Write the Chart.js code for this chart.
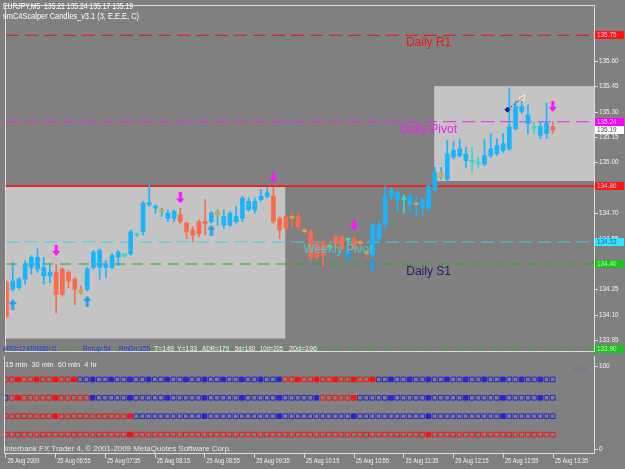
<!DOCTYPE html>
<html>
<head>
<meta charset="utf-8">
<script src="https://cdn.jsdelivr.net/npm/chart.js@4.4.1/dist/chart.umd.min.js"></script>
<style>
  html, body { margin: 0; padding: 0; width: 625px; height: 469px; overflow: hidden; background: #808080; }
  canvas { position: absolute; left: 0; }
  #main { top: 0; }
  #sub { top: 356px; }
</style>
</head>
<body>
<canvas id="main" width="625" height="357"></canvas>
<canvas id="sub" width="625" height="113"></canvas>
<script>
// --- data: EURJPY M5, 25 Aug 2009, bars 06:15 .. 13:35 ---
const open = [
  134.29, 134.25, 134.26, 134.31, 134.38, 134.37, 134.33, 134.33, 134.35, 134.37,
  134.35, 134.31, 134.25, 134.25, 134.38, 134.38, 134.38, 134.38, 134.44, 134.45,
  134.46, 134.57, 134.59, 134.75, 134.73, 134.72, 134.67, 134.67, 134.69, 134.64,
  134.60, 134.65, 134.65, 134.65, 134.71, 134.63, 134.63, 134.65, 134.67, 134.72,
  134.72, 134.78, 134.80, 134.80, 134.67, 134.68, 134.68, 134.68, 134.60, 134.59,
  134.52, 134.53, 134.51, 134.56, 134.56, 134.54, 134.55, 134.53, 134.47, 134.45,
  134.55, 134.63, 134.80, 134.78, 134.78, 134.75, 134.76, 134.73, 134.73, 134.84,
  134.94, 134.90, 135.03, 135.04, 135.01, 135.00, 134.99, 134.99, 135.04, 135.05,
  135.07, 135.08, 135.20, 135.30, 135.23, 135.20, 135.16, 135.17, 135.21
];
const high = [
  134.30, 134.41, 134.32, 134.42, 134.45, 134.49, 134.44, 134.40, 134.40, 134.38,
  134.36, 134.32, 134.27, 134.38, 134.48, 134.49, 134.42, 134.46, 134.48, 134.46,
  134.60, 134.58, 134.77, 134.87, 134.75, 134.73, 134.72, 134.72, 134.73, 134.65,
  134.62, 134.66, 134.78, 134.71, 134.72, 134.72, 134.71, 134.74, 134.80, 134.79,
  134.79, 134.84, 134.85, 134.85, 134.68, 134.69, 134.70, 134.70, 134.61, 134.60,
  134.53, 134.54, 134.52, 134.57, 134.57, 134.55, 134.56, 134.54, 134.48, 134.64,
  134.65, 134.86, 134.85, 134.83, 134.81, 134.81, 134.80, 134.79, 134.87, 134.97,
  134.97, 135.13, 135.12, 135.14, 135.09, 135.09, 135.03, 135.14, 135.17, 135.14,
  135.17, 135.44, 135.36, 135.36, 135.34, 135.24, 135.24, 135.35, 135.24
];
const low = [
  134.08, 134.24, 134.25, 134.28, 134.34, 134.35, 134.28, 134.29, 134.11, 134.21,
  134.26, 134.16, 134.22, 134.24, 134.37, 134.31, 134.32, 134.37, 134.39, 134.44,
  134.45, 134.56, 134.57, 134.74, 134.70, 134.68, 134.65, 134.65, 134.64, 134.55,
  134.53, 134.56, 134.57, 134.64, 134.63, 134.61, 134.62, 134.64, 134.65, 134.71,
  134.70, 134.77, 134.79, 134.64, 134.55, 134.60, 134.62, 134.60, 134.58, 134.42,
  134.43, 134.39, 134.49, 134.49, 134.48, 134.52, 134.48, 134.50, 134.44, 134.44,
  134.52, 134.61, 134.78, 134.71, 134.70, 134.70, 134.68, 134.68, 134.72, 134.83,
  134.90, 134.89, 135.02, 135.03, 134.97, 134.94, 134.97, 134.98, 135.03, 135.04,
  135.06, 135.07, 135.19, 135.29, 135.17, 135.17, 135.14, 135.14, 135.17
];
const close = [
  134.09, 134.30, 134.31, 134.40, 134.44, 134.44, 134.38, 134.35, 134.22, 134.22,
  134.30, 134.25, 134.23, 134.37, 134.47, 134.48, 134.40, 134.45, 134.47, 134.45,
  134.59, 134.57, 134.76, 134.76, 134.74, 134.71, 134.70, 134.71, 134.65, 134.59,
  134.57, 134.58, 134.64, 134.70, 134.69, 134.68, 134.70, 134.68, 134.79, 134.77,
  134.77, 134.80, 134.82, 134.65, 134.60, 134.61, 134.67, 134.62, 134.59, 134.44,
  134.44, 134.45, 134.50, 134.52, 134.49, 134.54, 134.49, 134.52, 134.46, 134.63,
  134.63, 134.80, 134.84, 134.82, 134.78, 134.80, 134.75, 134.78, 134.86, 134.94,
  134.91, 135.05, 135.07, 135.08, 135.05, 135.00, 134.99, 135.04, 135.08, 135.10,
  135.11, 135.21, 135.33, 135.33, 135.28, 135.20, 135.21, 135.23, 135.19
];
// candle colour per bar: b blue, r red, y/z olive (blue/red wick), c cross
const toneRuns = ['r', 'bbbbbbb', 'rrrr', 'z', 'bbbbbb', 'c', 'b', 'c', 'bbb', 'y', 'bb', 'rrrrr', 'b', 'y',
  'bbbbbbbb', 'rrr', 'z', 'r', 'z', 'rrr', 'z', 'rr', 'c', 'r', 'zz', 'bbbbb', 'c', 'b', 'y', 'bbb', 'y',
  'bbbb', 'cc', 'bbbbbbbb', 'c', 'bb', 'r'];

const upIdx = [1, 13, 33, 55, 59];
const upAt = [134.16, 134.18, 134.60, 134.45, 134.39];
const downIdx = [8, 28, 43, 56, 88];
const downAt = [134.48, 134.79, 134.91, 134.63, 135.33];
const tradeIdx = [80.7, 83.1];
const tradeAt = [135.31, 135.38];

const levelName = ['Daily R1', 'Daily Pivot', 'Weekly Pivot', 'Daily S1'];
const levelPrice = [135.75, 135.24, 134.53, 134.40];
const levelLabelIdx = [68, 68, 53.4, 68];
const dayOpen = 134.86;
const lowLine = 133.90;
const bid = 135.19;

const zoneFrom = [-0.5, 68.9];
const zoneTo = [44.9, 96];
const zoneHigh = [134.86, 135.45];
const zoneLow = [133.96, 134.89];

const yTicks = [135.75, 135.60, 135.45, 135.30, 135.15, 135.00, 134.85, 134.70, 134.55, 134.40, 134.25, 134.10, 133.95];
const xTickIdx = [0, 8, 16, 24, 32, 40, 48, 56, 64, 72, 80, 88];
const xTickText = ['25 Aug 2009', '25 Aug 06:55', '25 Aug 07:35', '25 Aug 08:15', '25 Aug 08:55', '25 Aug 09:35',
  '25 Aug 10:15', '25 Aug 10:55', '25 Aug 11:35', '25 Aug 12:15', '25 Aug 12:55', '25 Aug 13:35'];

const header = ['EURJPY,M5  135.21 135.24 135.17 135.19', 'smC4Scalper Candles_v3.1 (3, E,E,E, C)'];
const infoText = ['ATR3=12 ATR6000=11', 'RmUp:54', 'RmDn:155', 'T=149', 'Y=133', 'ADR=179', '5d=180', '10d=205', '20d=196'];

// sub window: trend squares for 15m / 30m / 60m / 4h
const rowNames = ['15 min', '30 min', '60 min', '4 hr'];
const rowLevel = [80, 60, 40, 20];
const rowRuns = [
  [['r', 12], ['b', 33], ['r', 15], ['b', 29]],
  [['b', 1], ['r', 13], ['b', 37], ['r', 6], ['b', 32]],
  [['r', 21], ['b', 68]],
  [['r', 89]]
];
const rowFilled = [
  [2, 5, 8, 11, 14, 17, 20, 23, 26, 29, 32, 35, 38, 41, 44, 47, 50, 53, 56, 59, 62, 65, 68, 71, 74, 77, 80, 83, 86],
  [2, 8, 14, 20, 26, 32, 38, 44, 50, 56, 62, 68, 74, 80, 86],
  [8, 20, 32, 44, 56, 68, 80],
  [20, 68]
];

// --- styles / layout ---
const X_MIN = -0.08, X_MAX = 94.64;
const Y_MIN = 133.8865, Y_MAX = 135.923;
const FRAME = '#dcdcdc';
const bodyCol = { b: '#19b4fb', r: '#fa6a4c', y: '#c8ac3c', z: '#c8ac3c', c: '#3ad8c0' };
const wickCol = { b: '#19b4fb', r: '#fa6a4c', y: '#19b4fb', z: '#fa6a4c', c: '#3ad8c0' };
const levelLine = ['#e01818', '#f020f0', '#40d0e0', '#28a828'];
const levelInk = ['#e81818', '#f020f0', '#40d0d8', '#1e2068'];
const sqCol = { r: '#f41414', b: '#2626d0' };
const infoX = [3, 83, 119, 154, 177, 202, 235, 260, 289];
const infoW = [54, 28, 31, 20, 20, 27, 20, 23, 28];
const infoInk = ['#2a2af8', '#2a2af8', '#2a2af8', '#f0f0f0', '#f0f0f0', '#f0f0f0', '#f0f0f0', '#f0f0f0', '#f0f0f0'];

function txt(ctx, s, x, y, o) {
  ctx.save();
  ctx.font = (o.size || 8) + 'px "Liberation Sans", Arial, sans-serif';
  ctx.fillStyle = o.color || '#ffffff';
  ctx.textAlign = o.align || 'left';
  ctx.textBaseline = o.base || 'middle';
  const k = o.width ? o.width / ctx.measureText(s).width : (o.squeeze || 1);
  ctx.translate(x, y);
  ctx.scale(k, 1);
  ctx.fillText(s, 0, 0);
  ctx.restore();
}

function arrowImg(color, up) {
  const c = document.createElement('canvas');
  c.width = 8; c.height = 11;
  const g = c.getContext('2d');
  g.fillStyle = color;
  g.beginPath();
  [[4, 0], [8, 5], [5.5, 5], [5.5, 11], [2.5, 11], [2.5, 5], [0, 5]].forEach(([px, py], k) => {
    const yy = up ? py : 11 - py;
    if (k) g.lineTo(px, yy); else g.moveTo(px, yy);
  });
  g.closePath();
  g.fill();
  return c;
}

const tone = toneRuns.join('');
const idx = open.map((_, i) => i);

const levelSets = levelPrice.map((v, k) => ({
  type: 'line', label: levelName[k],
  data: [{ x: X_MIN, y: v }, { x: X_MAX, y: v }],
  borderColor: levelLine[k], borderWidth: 1, borderDash: k === 3 ? [11, 7] : [13, 6],
  pointRadius: 0, order: 5
}));
levelSets.push({
  type: 'line', label: 'open', data: [{ x: X_MIN, y: dayOpen }, { x: X_MAX, y: dayOpen }],
  borderColor: '#ff1818', borderWidth: 1.6, pointRadius: 0, order: 5
});
levelSets.push({
  type: 'line', label: 'low', data: [{ x: X_MIN, y: lowLine }, { x: X_MAX, y: lowLine }],
  borderColor: '#22b422', borderWidth: 1, borderDash: [11, 7], pointRadius: 0, order: 5
});

const mainDeco = {
  id: 'mainDeco',
  beforeDatasetsDraw(chart) {
    const { ctx, chartArea: a, scales: { x, y } } = chart;
    ctx.save();
    ctx.beginPath();
    ctx.rect(a.left, a.top, a.right - a.left, a.bottom - a.top);
    ctx.clip();
    ctx.fillStyle = '#c4c4c4';
    zoneFrom.forEach((f, k) => {
      const x0 = x.getPixelForValue(f), x1 = x.getPixelForValue(zoneTo[k]);
      const y0 = y.getPixelForValue(zoneHigh[k]), y1 = y.getPixelForValue(zoneLow[k]);
      ctx.fillRect(x0, y0, x1 - x0, y1 - y0);
    });
    ctx.restore();
  },
  afterDatasetsDraw(chart) {
    const { ctx, chartArea: a, scales: { x, y } } = chart;
    // level names
    levelName.forEach((s, k) => {
      txt(ctx, s, x.getPixelForValue(levelLabelIdx[k]), y.getPixelForValue(levelPrice[k]) + 11,
        { size: 12, color: levelInk[k], align: 'center', base: 'alphabetic' });
    });
    // frame + price axis
    ctx.save();
    ctx.strokeStyle = FRAME;
    ctx.lineWidth = 1;
    ctx.strokeRect(a.left - 0.5, a.top - 0.5, a.right - a.left + 1, a.bottom - a.top + 1);
    ctx.beginPath();
    yTicks.forEach(v => {
      const py = Math.round(y.getPixelForValue(v)) + 0.5;
      ctx.moveTo(a.right + 0.5, py);
      ctx.lineTo(a.right + 4, py);
    });
    ctx.stroke();
    ctx.restore();
    yTicks.forEach(v => txt(ctx, v.toFixed(2), a.right + 5, y.getPixelForValue(v), { size: 7.5, squeeze: 0.85, color: '#f2f2f2' }));
    // price labels on the axis
    const boxes = [
      [levelPrice[0], '#ff1414', '#c8c8ff'],
      [levelPrice[1], '#ff00ff', '#ffd0ff'],
      [bid, '#ffffff', '#505050'],
      [dayOpen, '#ff1414', '#c8c8ff'],
      [levelPrice[2], '#30e8f8', '#2050d0'],
      [levelPrice[3], '#22c022', '#a8ffa8'],
      [lowLine, '#22c022', '#a8ffa8']
    ];
    boxes.forEach(([v, fill, ink]) => {
      const py = y.getPixelForValue(v);
      ctx.fillStyle = fill;
      ctx.fillRect(a.right + 1, Math.round(py - 4), 29, 8);
      txt(ctx, v.toFixed(2), a.right + 3, py, { size: 7.5, squeeze: 0.85, color: ink });
    });
    // header and info row
    txt(ctx, header[0], 3, 7, { size: 8.5, width: 130 });
    txt(ctx, header[1], 3, 16.5, { size: 8.5, width: 136 });
    infoText.forEach((s, k) => txt(ctx, s, infoX[k], 349, { size: 7.5, width: infoW[k], color: infoInk[k] }));
  }
};

new Chart(document.getElementById('main'), {
  type: 'bar',
  data: {
    datasets: [
      { type: 'scatter', label: 'up', data: upIdx.map((i, k) => ({ x: i, y: upAt[k] })),
        pointStyle: arrowImg('#1aa0f4', true), pointRadius: 5, order: 0 },
      { type: 'scatter', label: 'down', data: downIdx.map((i, k) => ({ x: i, y: downAt[k] })),
        pointStyle: arrowImg('#ff10ff', false), pointRadius: 5, order: 0 },
      { type: 'line', label: 'trade', data: tradeIdx.map((i, k) => ({ x: i, y: tradeAt[k] })),
        borderColor: '#2a2aa8', borderWidth: 1, borderDash: [2, 2],
        pointStyle: ['rectRot', 'triangle'], pointRadius: [3, 3.5], pointRotation: [0, -90],
        pointBackgroundColor: ['#1c1c98', '#f0b050'], pointBorderColor: ['#1c1c98', '#ffffff'],
        pointBorderWidth: [0, 0.8], order: 1 },
      { type: 'bar', label: 'body', data: idx.map(i => ({ x: i, y: [open[i], close[i]] })),
        backgroundColor: idx.map(i => bodyCol[tone[i]]), barThickness: 4, minBarLength: 2,
        grouped: false, order: 2 },
      { type: 'bar', label: 'wick', data: idx.map(i => ({ x: i, y: [low[i], high[i]] })),
        backgroundColor: idx.map(i => wickCol[tone[i]]), barThickness: 1, grouped: false, order: 3 },
      ...levelSets
    ]
  },
  options: {
    responsive: false,
    animation: false,
    events: [],
    layout: { padding: { left: 2, top: 2, right: 31, bottom: 2 } },
    plugins: { legend: { display: false }, tooltip: { enabled: false } },
    scales: {
      x: { type: 'linear', min: X_MIN, max: X_MAX, display: false, offset: false },
      y: { type: 'linear', min: Y_MIN, max: Y_MAX, display: false, beginAtZero: false }
    }
  },
  plugins: [mainDeco]
});

// --- sub window ---
const expand = runs => runs.flatMap(([c, n]) => Array(n).fill(c));

const subDeco = {
  id: 'subDeco',
  afterDraw(chart) {
    const { ctx, chartArea: a, scales: { x, y } } = chart;
    ctx.save();
    ctx.strokeStyle = FRAME;
    ctx.lineWidth = 1;
    ctx.beginPath();
    ctx.moveTo(a.left - 0.5, 0);
    ctx.lineTo(a.left - 0.5, a.bottom + 0.5);
    ctx.lineTo(a.right + 0.5, a.bottom + 0.5);
    ctx.lineTo(a.right + 0.5, 0);
    xTickIdx.forEach(i => {
      const px = Math.round(x.getPixelForValue(i)) + 0.5;
      ctx.moveTo(px, a.bottom + 0.5);
      ctx.lineTo(px, a.bottom + 5);
    });
    [[100, 5], [0, -4]].forEach(([v, d]) => {
      const py = Math.round(y.getPixelForValue(v) + d) + 0.5;
      ctx.moveTo(a.right + 0.5, py);
      ctx.lineTo(a.right + 4, py);
    });
    ctx.stroke();
    ctx.restore();
    xTickIdx.forEach((i, k) => txt(ctx, xTickText[k], x.getPixelForValue(i) + 2, a.bottom + 8,
      { size: 7, squeeze: 0.8, color: '#f0f0f0' }));
    txt(ctx, '100', a.right + 5, y.getPixelForValue(100) + 5, { size: 7.5, squeeze: 0.85, color: '#f2f2f2' });
    txt(ctx, '0', a.right + 5, y.getPixelForValue(0) - 4, { size: 7.5, squeeze: 0.85, color: '#f2f2f2' });
    txt(ctx, rowNames.join('  '), 5, 9, { size: 8, width: 92, color: '#f4f4f4' });
    txt(ctx, '58.5', a.right - 8, 14, { size: 7.5, squeeze: 0.85, color: '#6c6ca4', align: 'right' });
    txt(ctx, 'Interbank FX Trader 4, \u00a9 2001-2009 MetaQuotes Software Corp.', 4, 93,
      { size: 8, width: 227, color: '#e8e8e8' });
  }
};

new Chart(document.getElementById('sub'), {
  type: 'scatter',
  data: {
    datasets: rowNames.map((nm, r) => {
      const cols = expand(rowRuns[r]);
      return {
        label: nm,
        data: cols.map((c, i) => ({ x: i, y: rowLevel[r] })),
        pointStyle: 'rect',
        pointRadius: 3.3,
        pointBorderWidth: 1,
        pointBorderColor: cols.map(c => sqCol[c]),
        pointBackgroundColor: cols.map((c, i) => rowFilled[r].includes(i) ? sqCol[c] : 'rgba(0,0,0,0)')
      };
    })
  },
  options: {
    responsive: false,
    animation: false,
    events: [],
    layout: { padding: { left: 2, top: 0, right: 31, bottom: 16 } },
    plugins: { legend: { display: false }, tooltip: { enabled: false } },
    scales: {
      x: { type: 'linear', min: X_MIN, max: X_MAX, display: false },
      y: { type: 'linear', min: 0, max: 100, display: false }
    }
  },
  plugins: [subDeco]
});
</script>
</body>
</html>
